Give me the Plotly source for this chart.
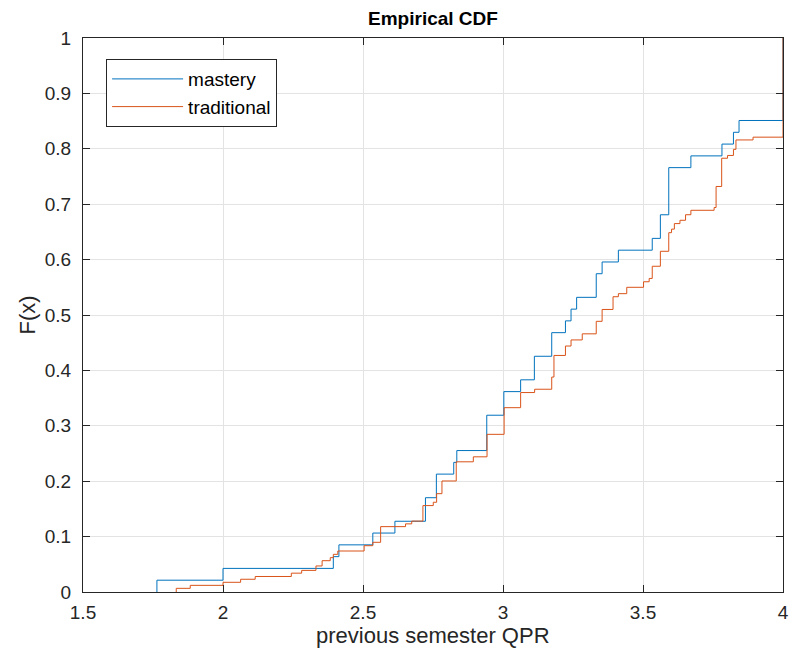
import plotly.graph_objects as go

# Empirical CDF step points (x where F jumps, F after jump)
mastery_x = [1.764, 2.0, 2.394, 2.414, 2.535, 2.614, 2.723, 2.762, 2.824, 2.835,
             2.942, 3.003, 3.063, 3.112, 3.174, 3.223, 3.243, 3.263, 3.333, 3.354,
             3.412, 3.533, 3.562, 3.592, 3.671, 3.782, 3.823, 3.843, 4.0]
mastery_F = [0.0213, 0.0426, 0.0638, 0.0851, 0.1064, 0.1277, 0.1702, 0.2128, 0.2340, 0.2553,
             0.3191, 0.3617, 0.3830, 0.4255, 0.4681, 0.4894, 0.5106, 0.5319, 0.5745, 0.5957,
             0.6170, 0.6383, 0.6809, 0.7660, 0.7872, 0.8085, 0.8298, 0.8511, 1.0]

traditional_x = [1.833, 1.883, 2.0, 2.063, 2.115, 2.244, 2.281, 2.332, 2.354, 2.383,
                 2.394, 2.41, 2.504, 2.535, 2.563, 2.652, 2.674, 2.714, 2.751, 2.763,
                 2.782, 2.833, 2.894, 2.943, 3.004, 3.063, 3.113, 3.174, 3.182, 3.223,
                 3.243, 3.283, 3.333, 3.354, 3.393, 3.412, 3.442, 3.502, 3.522, 3.533,
                 3.562, 3.592, 3.602, 3.612, 3.632, 3.652, 3.671, 3.754, 3.761, 3.781,
                 3.802, 3.823, 3.832, 3.893, 4.0]
traditional_F = [0.0066, 0.0120, 0.0175, 0.0230, 0.0280, 0.0340, 0.0390, 0.0470, 0.0565, 0.0620,
                 0.0680, 0.0740, 0.0836, 0.0897, 0.1180, 0.1230, 0.1280, 0.1560, 0.1620, 0.1775,
                 0.2004, 0.2350, 0.2440, 0.2846, 0.3327, 0.3600, 0.3660, 0.3880, 0.4270, 0.4440,
                 0.4550, 0.4660, 0.4886, 0.5100, 0.5330, 0.5385, 0.5500, 0.5600, 0.5660, 0.5880,
                 0.6150, 0.6486, 0.6550, 0.6650, 0.6710, 0.6810, 0.6890, 0.6940, 0.7320, 0.7830,
                 0.7880, 0.7990, 0.8160, 0.8210, 1.0]

x_ticks = [1.5, 2, 2.5, 3, 3.5, 4]
y_ticks = [0, 0.1, 0.2, 0.3, 0.4, 0.5, 0.6, 0.7, 0.8, 0.9, 1]


def stairs(xs, fs):
    return [xs[0]] + list(xs), [0.0] + list(fs)


fig = go.Figure()
mx, my = stairs(mastery_x, mastery_F)
tx, ty = stairs(traditional_x, traditional_F)
fig.add_trace(go.Scatter(x=mx, y=my, mode="lines", line=dict(shape="hv", color="#0072BD", width=1),
                         name="mastery"))
fig.add_trace(go.Scatter(x=tx, y=ty, mode="lines", line=dict(shape="hv", color="#D95319", width=1),
                         name="traditional"))

FONT = "Liberation Sans, Arial, sans-serif"
axis_common = dict(
    showline=True, linecolor="#262626", linewidth=1, mirror="allticks",
    ticks="inside", ticklen=7, tickcolor="#262626",
    showgrid=True, gridcolor="#e3e3e3", gridwidth=1, zeroline=False,
    tickfont=dict(family=FONT, size=19, color="#262626"),
)

fig.update_layout(
    width=791, height=667,
    margin=dict(l=83, r=8, t=38, b=75, autoexpand=False),
    paper_bgcolor="white", plot_bgcolor="white",
    font=dict(family=FONT, color="#262626"),
    title=dict(text="<b>Empirical CDF</b>", x=0.5474, xanchor="center", y=0.972, yanchor="middle",
               font=dict(size=19, color="black")),
    xaxis=dict(range=[1.5, 4], tickvals=x_ticks, ticktext=[str(v) for v in x_ticks],
               ticklabelstandoff=3, **axis_common),
    yaxis=dict(range=[0, 1], tickvals=y_ticks, ticktext=["0"] + [str(v) for v in y_ticks[1:-1]] + ["1"],
               title=dict(text="F(x)", font=dict(size=22), standoff=3),
               ticklabelstandoff=7, **axis_common),
    legend=dict(x=0.033, y=0.962, xanchor="left", yanchor="top",
                bordercolor="#262626", borderwidth=1, bgcolor="white",
                font=dict(size=19, color="black"), itemwidth=71,
                tracegroupgap=0),
    showlegend=True,
    annotations=[dict(text="previous semester QPR", xref="paper", yref="paper",
                      x=0.5, y=-0.0794, xanchor="center", yanchor="middle",
                      showarrow=False, font=dict(size=22, color="#262626"))],
)

fig.write_html("out.html")
